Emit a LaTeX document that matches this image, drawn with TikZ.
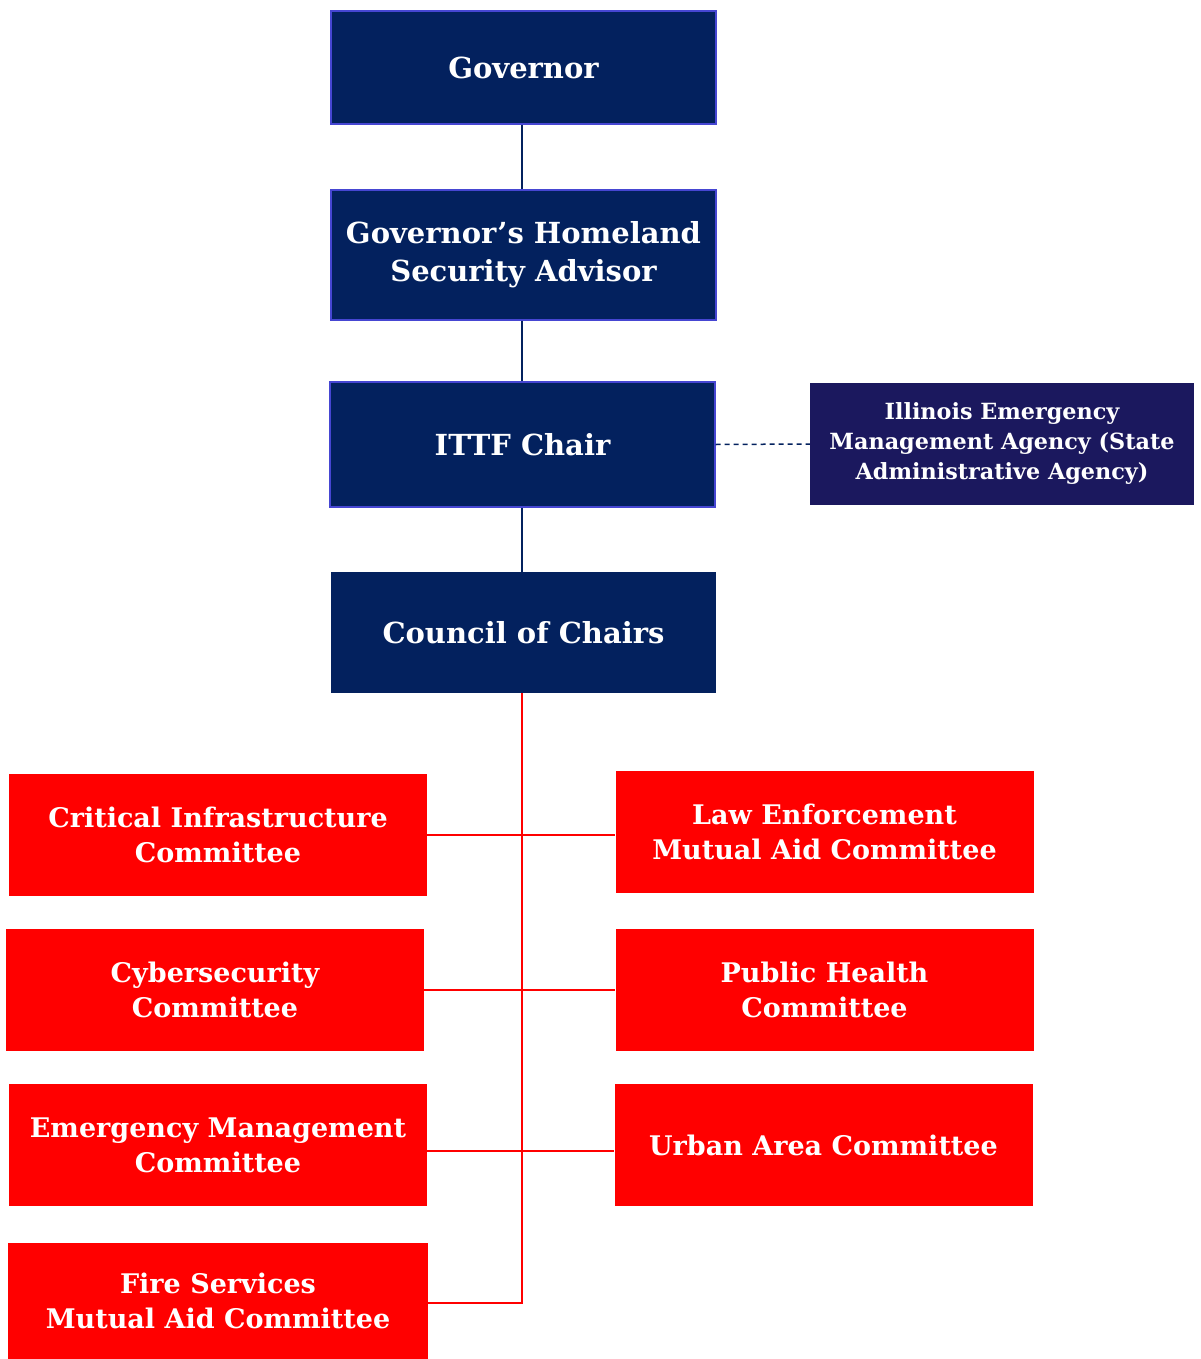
\documentclass[tikz,border=0pt]{standalone}
\usepackage{fontspec}
\setmainfont{DejaVu Serif}
\definecolor{navy}{HTML}{03215E}
\definecolor{navyedge}{HTML}{4646D2}
\definecolor{indigo}{HTML}{1B185E}
\definecolor{cred}{HTML}{FF0000}
\tikzset{
  topbox/.style={fill=navy, draw=navyedge, line width=1.2pt, text=white, inner sep=0pt, align=center,
    font=\fontsize{29}{38}\selectfont\bfseries},
  plainnavy/.style={fill=navy, text=white, inner sep=0pt, align=center,
    font=\fontsize{29}{38}\selectfont\bfseries},
  agencybox/.style={fill=indigo, text=white, inner sep=0pt, align=center,
    font=\fontsize{22.3}{30}\selectfont\bfseries},
  combox/.style={fill=cred, text=white, inner sep=0pt, align=center,
    minimum width=418pt, minimum height=122pt,
    font=\fontsize{27}{35}\selectfont\bfseries},
  navyline/.style={draw=navy, line width=1.8pt},
  redline/.style={draw=cred, line width=1.6pt},
}
\begin{document}
\begin{tikzpicture}[x=1pt,y=-1pt]
\useasboundingbox (0,0) rectangle (1200,1359);
\coordinate (spine) at (522,0);
\node[topbox, minimum width=385pt, minimum height=113pt] (gov) at (523.5,67.5) {Governor};
\node[topbox, minimum width=385pt, minimum height=130pt] (ghsa) at (523.5,255) {Governor’s Homeland\\Security Advisor};
\node[topbox, minimum width=385pt, minimum height=125pt] (ittf) at (522.5,444.5) {ITTF Chair};
\node[agencybox, minimum width=384pt, minimum height=122pt] (iema) at (1002,444) {Illinois Emergency\\Management Agency (State\\Administrative Agency)};
\node[plainnavy, minimum width=385pt, minimum height=121pt] (council) at (523.5,632.5) {Council of Chairs};

\node[combox] (ci) at (218,835) {Critical Infrastructure\\Committee};
\node[combox] (le) at (824.5,832) {Law Enforcement\\Mutual Aid Committee};
\node[combox] (cy) at (215,990) {Cybersecurity\\Committee};
\node[combox] (ph) at (824.5,990) {Public Health\\Committee};
\node[combox] (em) at (218,1145) {Emergency Management\\Committee};
\node[combox] (ua) at (823.5,1145) {Urban Area Committee};
\node[combox, minimum width=420pt, minimum height=116pt] (fs) at (218,1301) {Fire Services\\Mutual Aid Committee};

\draw[navyline] (gov.south -| spine) -- (ghsa.north -| spine);
\draw[navyline] (ghsa.south -| spine) -- (ittf.north -| spine);
\draw[navyline] (ittf.south -| spine) -- (council.north -| spine);
\draw[navy, line width=1.5pt, dash pattern=on 5pt off 4pt] (ittf.east) -- (iema.west);

\coordinate (trunkend) at (522,1303);
\draw[redline] (council.south -| trunkend) -- (trunkend) -- (trunkend -| fs.east);
\draw[redline] (ci.east) -- (ci.east -| le.west);
\draw[redline] (cy.east) -- (ph.west);
\draw[redline] (em.east |- 0,1151) -- (ua.west |- 0,1151);
\end{tikzpicture}
\end{document}
